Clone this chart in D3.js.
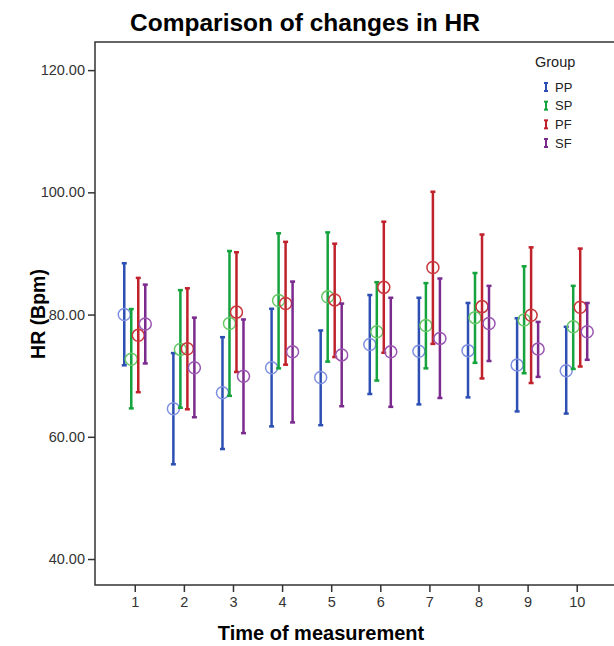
<!DOCTYPE html>
<html>
<head>
<meta charset="utf-8">
<script src="https://cdn.jsdelivr.net/npm/d3@7"></script>
<style>
  body { margin: 0; background: #fff; }
  svg { font-family: "Liberation Sans", Arial, sans-serif; }
</style>
</head>
<body>
<svg width="614" height="646"></svg>
<script>
// data
let times = [1, 2, 3, 4, 5, 6, 7, 8, 9, 10];
let groups = ['PP', 'SP', 'PF', 'SF'];
let yTicks = [40, 60, 80, 100, 120];

let ppMean  = [80.0, 64.6, 67.2, 71.3, 69.7, 75.1, 74.0, 74.1, 71.75, 70.8];
let ppLow   = [71.7, 55.5, 58.0, 61.7, 61.9, 67.0, 65.3, 66.45, 64.15, 63.8];
let ppHigh  = [88.4, 73.7, 76.3, 80.95, 77.4, 83.2, 82.75, 81.9, 79.4, 78.0];

let spMean  = [72.7, 74.3, 78.55, 82.3, 82.9, 77.2, 78.2, 79.5, 79.1, 78.0];
let spLow   = [64.65, 64.75, 66.7, 71.2, 72.3, 69.2, 71.2, 72.1, 70.4, 71.1];
let spHigh  = [80.9, 84.0, 90.4, 93.3, 93.45, 85.3, 85.15, 86.8, 87.9, 84.7];

let pfMean  = [76.6, 74.4, 80.4, 81.8, 82.4, 84.45, 87.7, 81.3, 79.9, 81.2];
let pfLow   = [67.3, 64.5, 70.6, 71.8, 73.05, 73.75, 75.2, 69.55, 68.8, 71.5];
let pfHigh  = [86.0, 84.3, 90.2, 91.9, 91.6, 95.2, 100.1, 93.1, 91.0, 90.8];

let sfMean  = [78.45, 71.3, 69.9, 73.9, 73.4, 73.9, 76.1, 78.55, 74.35, 77.2];
let sfLow   = [72.0, 63.2, 60.6, 62.35, 65.0, 64.9, 66.35, 72.4, 69.8, 72.6];
let sfHigh  = [84.9, 79.5, 79.2, 85.4, 81.8, 82.75, 85.9, 84.7, 78.8, 81.9];

let series = [
  {group: 'PP', mean: ppMean, low: ppLow, high: ppHigh},
  {group: 'SP', mean: spMean, low: spLow, high: spHigh},
  {group: 'PF', mean: pfMean, low: pfLow, high: pfHigh},
  {group: 'SF', mean: sfMean, low: sfLow, high: sfHigh}
];

let barColor = {PP: '#2d4fb4', SP: '#14a33c', PF: '#c0222c', SF: '#7b2a8e'};
let dotColor = {PP: '#7f8fe0', SP: '#66c766', PF: '#c8363c', SF: '#9a55b2'};

let plotLeft = 95, plotRight = 616, plotTop = 42, plotBottom = 585;

let svg = d3.select('svg');

let xScale = d3.scaleLinear()
  .domain([0.19, 10.8])
  .range([plotLeft, plotRight]);

let yScale = d3.scaleLinear()
  .domain([35.75, 124.6])
  .range([plotBottom, plotTop]);

let dodge = d3.scalePoint()
  .domain(groups)
  .range([-10.5, 10.5]);

// frame
svg.append('rect')
  .attr('x', plotLeft)
  .attr('y', plotTop)
  .attr('width', plotRight - plotLeft)
  .attr('height', plotBottom - plotTop)
  .attr('fill', 'none')
  .attr('stroke', '#333')
  .attr('stroke-width', 1.5);

let xAxis = d3.axisBottom(xScale)
  .tickValues(times)
  .tickFormat(d3.format('d'))
  .tickSize(7)
  .tickSizeOuter(0)
  .tickPadding(5);

let yAxis = d3.axisLeft(yScale)
  .tickValues(yTicks)
  .tickFormat(d3.format('.2f'))
  .tickSize(7)
  .tickSizeOuter(0)
  .tickPadding(3);

let gx = svg.append('g')
  .attr('transform', `translate(0,${plotBottom})`)
  .call(xAxis);

let gy = svg.append('g')
  .attr('transform', `translate(${plotLeft},0)`)
  .call(yAxis);

[gx, gy].forEach(g => {
  g.select('.domain').remove();
  g.selectAll('line').attr('stroke', '#333').attr('stroke-width', 1.5);
  g.selectAll('text').attr('fill', '#333').style('font-size', '14.5px');
});

// titles
svg.append('text')
  .attr('x', 305)
  .attr('y', 31)
  .attr('text-anchor', 'middle')
  .style('font-size', '24.5px')
  .style('font-weight', 'bold')
  .text('Comparison of changes in HR');

svg.append('text')
  .attr('x', 321)
  .attr('y', 640)
  .attr('text-anchor', 'middle')
  .style('font-size', '20px')
  .style('font-weight', 'bold')
  .text('Time of measurement');

svg.append('text')
  .attr('transform', 'rotate(-90)')
  .attr('x', -314)
  .attr('y', 45)
  .attr('text-anchor', 'middle')
  .style('font-size', '19.5px')
  .style('font-weight', 'bold')
  .text('HR (Bpm)');

// error bars and means
series.forEach(s => {
  let g = svg.append('g');
  let rows = times.map((t, i) => ({t: t, mean: s.mean[i], low: s.low[i], high: s.high[i]}));
  let cx = d => xScale(d.t) + dodge(s.group);

  g.selectAll('line.bar')
    .data(rows)
    .enter()
    .append('line')
    .attr('class', 'bar')
    .attr('x1', cx).attr('x2', cx)
    .attr('y1', d => yScale(d.low))
    .attr('y2', d => yScale(d.high))
    .attr('stroke', barColor[s.group])
    .attr('stroke-width', 2.5);

  ['low', 'high'].forEach(k => {
    g.selectAll('line.cap-' + k)
      .data(rows)
      .enter()
      .append('line')
      .attr('class', 'cap-' + k)
      .attr('x1', d => cx(d) - 2.5)
      .attr('x2', d => cx(d) + 2.5)
      .attr('y1', d => yScale(d[k]))
      .attr('y2', d => yScale(d[k]))
      .attr('stroke', barColor[s.group])
      .attr('stroke-width', 2.5);
  });

  g.selectAll('circle')
    .data(rows)
    .enter()
    .append('circle')
    .attr('cx', cx)
    .attr('cy', d => yScale(d.mean))
    .attr('r', 6)
    .attr('fill', 'none')
    .attr('stroke', dotColor[s.group])
    .attr('stroke-width', 1.5);
});

// legend
let legend = svg.append('g');
legend.append('text')
  .attr('x', 535)
  .attr('y', 67)
  .style('font-size', '14.5px')
  .attr('fill', '#222')
  .text('Group');

let legendY = d3.scalePoint()
  .domain(groups)
  .range([87, 143]);

groups.forEach(gname => {
  let y = legendY(gname);
  let icon = legend.append('g').attr('stroke', barColor[gname]).attr('stroke-width', 2);
  icon.append('line').attr('x1', 546).attr('x2', 546).attr('y1', y - 4).attr('y2', y + 4);
  icon.append('line').attr('x1', 544).attr('x2', 548).attr('y1', y - 4).attr('y2', y - 4);
  icon.append('line').attr('x1', 544).attr('x2', 548).attr('y1', y + 4).attr('y2', y + 4);
  legend.append('text')
    .attr('x', 555)
    .attr('y', y + 4.5)
    .style('font-size', '13px')
    .attr('fill', '#222')
    .text(gname);
});
</script>
</body>
</html>
